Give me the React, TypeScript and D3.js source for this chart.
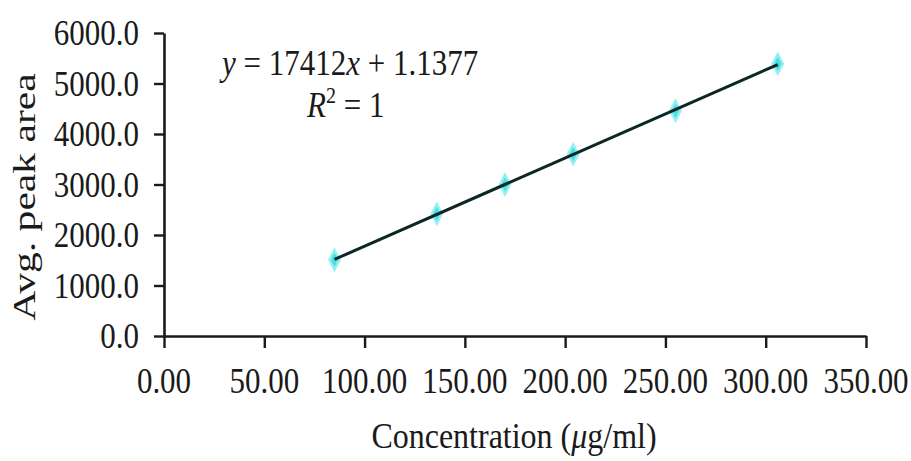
import React, { useRef, useEffect } from 'react'
import * as d3 from 'd3'

// Courbe d'étalonnage : aire moyenne du pic vs concentration
const concentrations = [85, 136, 170, 204, 255, 306]
const peakAreas = [1510, 2420, 3000, 3600, 4460, 5390]
const xTicks = [0, 50, 100, 150, 200, 250, 300, 350]
const yTicks = [0, 1000, 2000, 3000, 4000, 5000, 6000]
const equationText = { slope: '17412', intercept: '1.1377', r2: '1' }

export default function App() {
  const svgRef = useRef<SVGSVGElement | null>(null)

  useEffect(() => {
    const svg = d3.select(svgRef.current)
    svg.selectAll('*').remove()

    const width = 911
    const height = 461
    const margin = { top: 33, right: 45, bottom: 125, left: 164 }
    const chartWidth = width - margin.left - margin.right
    const chartHeight = height - margin.top - margin.bottom
    const font = '"Liberation Serif", "DejaVu Serif", serif'
    const ink = '#1a1a1a'
    // l'image d'origine est un peu étirée verticalement → textes plus hauts
    const stretch = 1.15

    const x = d3.scaleLinear().domain([0, 350]).range([0, chartWidth])
    const y = d3.scaleLinear().domain([0, 6000]).range([chartHeight, 0])

    const g = svg.append('g').attr('transform', `translate(${margin.left}, ${margin.top})`)

    // Axes (traits seulement, les libellés sont posés à la main plus bas)
    g.append('g')
      .attr('transform', `translate(0, ${chartHeight})`)
      .call(d3.axisBottom(x).tickValues(xTicks).tickSize(12).tickSizeOuter(0).tickFormat(() => ''))
      .call((a) => a.select('.domain').attr('stroke', ink).attr('stroke-width', 2.6))
      .call((a) => a.selectAll('.tick line').attr('stroke', ink).attr('stroke-width', 2.4))
    g.append('g')
      .call(d3.axisLeft(y).tickValues(yTicks).tickSize(10).tickSizeOuter(0).tickFormat(() => ''))
      .call((a) => a.select('.domain').attr('stroke', ink).attr('stroke-width', 2.6))
      .call((a) => a.selectAll('.tick line').attr('stroke', ink).attr('stroke-width', 2.4))

    const label = (parent: any, tx: number, ty: number, sx: number, sy: number, size: number) =>
      parent.append('text')
        .attr('transform', `translate(${tx}, ${ty}) scale(${sx}, ${sy})`)
        .attr('fill', ink)
        .attr('font-family', font)
        .style('font-family', font)
        .style('font-size', `${size}px`)

    xTicks.forEach((v) => {
      label(g, x(v), chartHeight + 57, 1, stretch, 31)
        .attr('text-anchor', 'middle')
        .text(d3.format('.2f')(v))
    })
    yTicks.forEach((v) => {
      label(g, -25, y(v), 1, stretch, 31)
        .attr('text-anchor', 'end')
        .attr('dy', '0.34em')
        .text(d3.format('.1f')(v))
    })

    // Droite de régression (moindres carrés sur les points)
    const mx = d3.mean(concentrations) as number
    const my = d3.mean(peakAreas) as number
    let num = 0
    let den = 0
    concentrations.forEach((c, i) => {
      num += (c - mx) * (peakAreas[i] - my)
      den += (c - mx) * (c - mx)
    })
    const slope = num / den
    const intercept = my - slope * mx
    const x0 = d3.min(concentrations) as number
    const x1 = d3.max(concentrations) as number

    // Marqueurs losanges cyan
    const symbol = d3.symbol().type(d3.symbolDiamond).size(100)
    concentrations.forEach((c, i) => {
      g.append('path')
        .attr('d', symbol)
        .attr('transform', `translate(${x(c)}, ${y(peakAreas[i])}) scale(0.95, 1.05)`)
        .attr('fill', '#36dde3')
        .attr('stroke', '#8beef0')
        .attr('stroke-width', 2.5)
        .attr('opacity', 0.9)
    })

    g.append('line')
      .attr('x1', x(x0)).attr('y1', y(slope * x0 + intercept))
      .attr('x2', x(x1)).attr('y2', y(slope * x1 + intercept))
      .attr('stroke', '#0d2626')
      .attr('stroke-width', 3)

    // Équation
    const eq = label(svg, 222, 75, 1, stretch, 31)
    eq.append('tspan').style('font-style', 'italic').text('y')
    eq.append('tspan').text(` = ${equationText.slope}`)
    eq.append('tspan').style('font-style', 'italic').text('x')
    eq.append('tspan').text(` + ${equationText.intercept}`)

    const r2 = label(svg, 307, 117, 1, stretch, 31)
    r2.append('tspan').style('font-style', 'italic').text('R')
    r2.append('tspan').attr('dy', -12).style('font-size', '20px').text('2')
    r2.append('tspan').attr('dy', 12).text(` = ${equationText.r2}`)

    // Titres des axes
    label(svg, 35, 197, 1, 1, 32)
      .attr('transform', 'translate(35, 197) rotate(-90) scale(1.3, 1)')
      .attr('text-anchor', 'middle')
      .text('Avg. peak area')

    const xt = label(svg, 514, 448, 1, 1.1, 32).attr('text-anchor', 'middle')
    xt.append('tspan').text('Concentration (')
    xt.append('tspan').style('font-style', 'italic').text('μ')
    xt.append('tspan').text('g/ml)')
  }, [])

  return (
    <svg
      ref={svgRef}
      width={911}
      height={461}
      viewBox="0 0 911 461"
      style={{ position: 'absolute', left: 0, top: 0, background: '#fff' }}
    />
  )
}
